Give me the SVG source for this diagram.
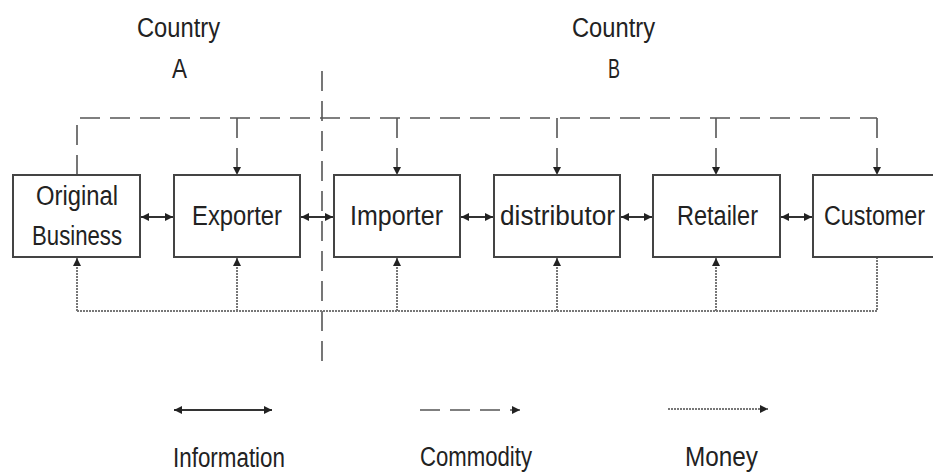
<svg xmlns="http://www.w3.org/2000/svg" width="933" height="473" viewBox="0 0 933 473">
<style>
text{font-family:"Liberation Sans",Arial,sans-serif;font-size:27px;fill:#222;}
.box{fill:#fff;stroke:#444;stroke-width:2;}
.info{stroke:#333;stroke-width:2;fill:none;}
.comm{stroke:#555;stroke-width:1.6;fill:none;stroke-dasharray:20 10;}
.money{stroke:#777;stroke-width:2;fill:none;stroke-dasharray:2 1;}
</style>
<defs>
<marker id="ah" viewBox="0 0 10 10" refX="10" refY="5" markerWidth="8" markerHeight="8" markerUnits="userSpaceOnUse" orient="auto-start-reverse">
<path d="M0,0 L10,5 L0,10 z" fill="#222"/>
</marker>
</defs>
<rect width="933" height="473" fill="#fff"/>
<g id="labels">
<text x="137" y="37" textLength="83" lengthAdjust="spacingAndGlyphs">Country</text>
<text x="172" y="78" textLength="15" lengthAdjust="spacingAndGlyphs">A</text>
<text x="572" y="37" textLength="83" lengthAdjust="spacingAndGlyphs">Country</text>
<text x="608" y="78" textLength="12" lengthAdjust="spacingAndGlyphs">B</text>
</g>
<g id="connectors">
<line class="comm" x1="322" y1="71" x2="322" y2="362"/>
<path class="comm" d="M77,175 V118 H877"/>
<line class="comm" x1="877" y1="118" x2="877" y2="175" marker-end="url(#ah)"/>
<line class="comm" x1="237" y1="118" x2="237" y2="175" marker-end="url(#ah)"/>
<line class="comm" x1="397" y1="118" x2="397" y2="175" marker-end="url(#ah)"/>
<line class="comm" x1="557" y1="118" x2="557" y2="175" marker-end="url(#ah)"/>
<line class="comm" x1="716" y1="118" x2="716" y2="175" marker-end="url(#ah)"/>
<path class="money" d="M877,257 V311 H77"/>
<line class="money" x1="77" y1="311" x2="77" y2="258" marker-end="url(#ah)"/>
<line class="money" x1="237" y1="311" x2="237" y2="258" marker-end="url(#ah)"/>
<line class="money" x1="397" y1="311" x2="397" y2="258" marker-end="url(#ah)"/>
<line class="money" x1="557" y1="311" x2="557" y2="258" marker-end="url(#ah)"/>
<line class="money" x1="716" y1="311" x2="716" y2="258" marker-end="url(#ah)"/>
<line class="info" x1="141" y1="217" x2="173" y2="217" marker-start="url(#ah)" marker-end="url(#ah)"/>
<line class="info" x1="301" y1="217" x2="333" y2="217" marker-start="url(#ah)" marker-end="url(#ah)"/>
<line class="info" x1="461" y1="217" x2="493" y2="217" marker-start="url(#ah)" marker-end="url(#ah)"/>
<line class="info" x1="621" y1="217" x2="652" y2="217" marker-start="url(#ah)" marker-end="url(#ah)"/>
<line class="info" x1="781" y1="217" x2="812" y2="217" marker-start="url(#ah)" marker-end="url(#ah)"/>
</g>
<g id="original-business">
<rect class="box" x="13" y="175" width="127" height="82"/>
<text x="36" y="205" textLength="82" lengthAdjust="spacingAndGlyphs">Original</text>
<text x="32" y="245" textLength="90" lengthAdjust="spacingAndGlyphs">Business</text>
</g>
<g id="exporter">
<rect class="box" x="174" y="175" width="126" height="82"/>
<text x="192" y="225" textLength="90" lengthAdjust="spacingAndGlyphs">Exporter</text>
</g>
<g id="importer">
<rect class="box" x="334" y="175" width="126" height="82"/>
<text x="350" y="225" textLength="93" lengthAdjust="spacingAndGlyphs">Importer</text>
</g>
<g id="distributor">
<rect class="box" x="494" y="175" width="126" height="82"/>
<text x="500" y="225" textLength="115" lengthAdjust="spacingAndGlyphs">distributor</text>
</g>
<g id="retailer">
<rect class="box" x="653" y="175" width="127" height="82"/>
<text x="677" y="225" textLength="81" lengthAdjust="spacingAndGlyphs">Retailer</text>
</g>
<g id="customer">
<rect class="box" x="813" y="175" width="127" height="82"/>
<text x="824" y="225" textLength="101" lengthAdjust="spacingAndGlyphs">Customer</text>
</g>
<g id="legend">
<line class="info" x1="174" y1="410" x2="272" y2="410" marker-start="url(#ah)" marker-end="url(#ah)"/>
<line class="comm" x1="420" y1="410" x2="520" y2="410" stroke-width="2" marker-end="url(#ah)"/>
<line class="money" x1="668" y1="409" x2="768" y2="409" marker-end="url(#ah)"/>
<text x="173" y="467" textLength="112" lengthAdjust="spacingAndGlyphs">Information</text>
<text x="420" y="466" textLength="112" lengthAdjust="spacingAndGlyphs">Commodity</text>
<text x="685" y="466" textLength="73" lengthAdjust="spacingAndGlyphs">Money</text>
</g>
</svg>
